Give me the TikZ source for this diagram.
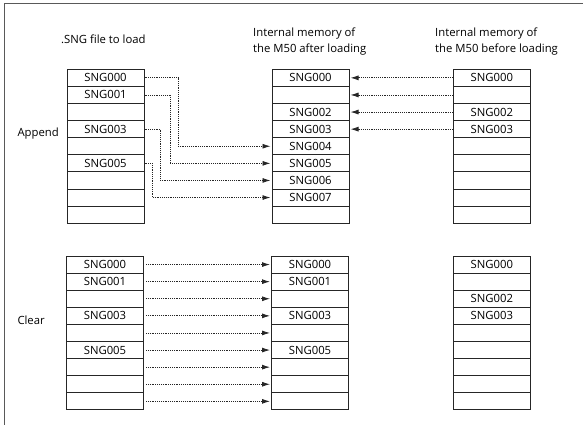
\documentclass[tikz,border=0pt]{standalone}
\usepackage{fontspec}
\setmainfont{Open Sans}
\usetikzlibrary{arrows.meta}
\begin{document}
\begin{tikzpicture}[x=1pt,y=-1pt,
  cell/.style={draw=black!85,line width=1pt,minimum width=77pt,minimum height=17.1pt,inner sep=0pt,font=\fontsize{11.3}{13}\selectfont,text=black},
  conn/.style={densely dotted,line width=0.85pt,draw=black!85,shorten >=1pt,-{Latex[length=8pt,width=5pt]}},
  head/.style={align=left,anchor=north west,inner sep=0pt,font=\fontsize{11.3}{16}\selectfont,text=black},
  lab/.style={anchor=west,inner sep=0pt,font=\fontsize{11.3}{13}\selectfont,text=black},
  frame/.style={draw=black!65,line width=0.9pt}]
\useasboundingbox (0,0) rectangle (583,425);
\draw[frame] (583,3.8) -- (4,3.8) -- (4,425);
% headings
\node[head] (h1) at (61,34.5) {.SNG file to load};
\node[head] (h2) at (253,27.5) {Internal memory of\\the M50 after loading};
\node[head] (h3) at (435,27.5) {Internal memory of\\the M50 before loading};
\node[lab] (app) at (17.3,134) {Append};
\node[lab] (clr) at (17.3,320) {Clear};
% upper group
\foreach \t [count=\i from 0] in {SNG000,SNG001,{},SNG003,{},SNG005,{},{},{}}
  \node[cell] (A\i) at (105.5,{69.3+17.1*(\i+0.5)}) {\t};
\foreach \t [count=\i from 0] in {SNG000,{},SNG002,SNG003,SNG004,SNG005,SNG006,SNG007,{}}
  \node[cell] (B\i) at (310.5,{69.3+17.1*(\i+0.5)}) {\t};
\foreach \t [count=\i from 0] in {SNG000,{},SNG002,SNG003,{},{},{},{},{}}
  \node[cell] (C\i) at (491.8,{69.3+17.1*(\i+0.5)}) {\t};
% lower group
\foreach \t [count=\i from 0] in {SNG000,SNG001,{},SNG003,{},SNG005,{},{},{}}
  \node[cell] (D\i) at (105,{256+17.1*(\i+0.5)}) {\t};
\foreach \t [count=\i from 0] in {SNG000,SNG001,{},SNG003,{},SNG005,{},{},{}}
  \node[cell] (E\i) at (310,{256+17.1*(\i+0.5)}) {\t};
\foreach \t [count=\i from 0] in {SNG000,{},SNG002,SNG003,{},{},{},{},{}}
  \node[cell] (F\i) at (491.8,{256+17.1*(\i+0.5)}) {\t};
% append connectors
\coordinate (v0) at (178.3,0);
\coordinate (v1) at (170,0);
\coordinate (v2) at (160.7,0);
\coordinate (v3) at (152.3,0);
\draw[conn] (A0.east) -- (A0.east -| v0) |- (B4.west);
\draw[conn] (A1.east) -- (A1.east -| v1) |- (B5.west);
\draw[conn] (A3.east) -- (A3.east -| v2) |- (B6.west);
\draw[conn] (A5.east) -- (A5.east -| v3) |- (B7.west);
\foreach \i in {0,...,3}
  \draw[conn] (C\i.west) -- (B\i.east);
% clear connectors
\foreach \i in {0,...,8}
  \draw[conn,shorten <=2pt] (D\i.east) -- (E\i.west);
\end{tikzpicture}
\end{document}
